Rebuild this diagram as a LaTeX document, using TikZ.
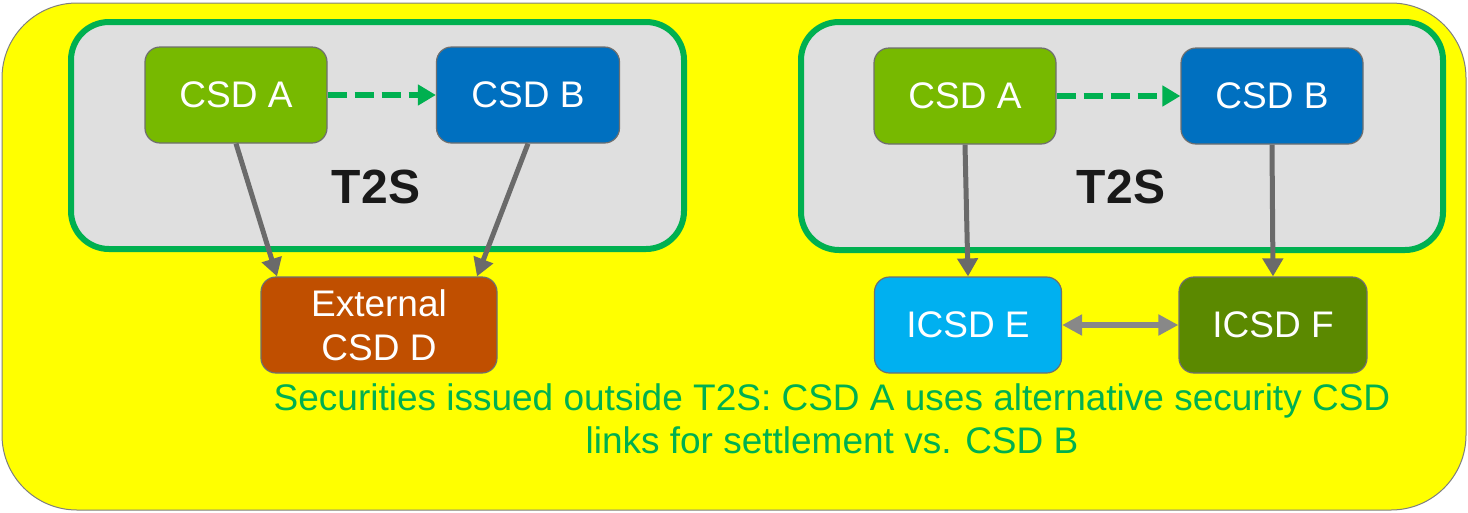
\documentclass[tikz,border=0pt]{standalone}
\usepackage{fontspec}
\setmainfont{Liberation Sans}
\usetikzlibrary{arrows.meta}
\definecolor{bgYellow}{HTML}{FFFF00}
\definecolor{frameGray}{HTML}{7F7F7F}
\definecolor{tGreen}{HTML}{00B050}
\definecolor{tGray}{HTML}{DFDFDF}
\definecolor{boxGray}{HTML}{6F6F6F}
\definecolor{csdA}{HTML}{77B900}
\definecolor{csdB}{HTML}{0070C0}
\definecolor{csdD}{HTML}{C04F00}
\definecolor{icsdE}{HTML}{00B0F0}
\definecolor{icsdF}{HTML}{5B8900}
\definecolor{linkGray}{HTML}{6A6A6A}
\definecolor{twoGray}{HTML}{888888}
\begin{document}
\begin{tikzpicture}[x=1pt,y=-1pt,line join=round,
	csd/.style={draw=boxGray,line width=1.2pt,rounded corners=15pt,minimum height=96pt,
		inner sep=0pt,align=center,text=white,font=\fontsize{37}{44}\selectfont},
	t2sbox/.style={draw=tGreen,fill=tGray,line width=6pt,rounded corners=38pt},
	link/.style={draw=linkGray,line width=5pt,-{Triangle[length=18pt,width=20pt]}},
	alt/.style={draw=tGreen,line width=6pt,dash pattern=on 19pt off 8pt,-{Triangle[length=18pt,width=20pt]}},
	both/.style={draw=twoGray,line width=5.5pt,{Triangle[length=20pt,width=20pt]}-{Triangle[length=20pt,width=20pt]}}]
	\useasboundingbox (0,0) rectangle (1468,512);
	\draw[fill=bgYellow,draw=frameGray,line width=1pt,rounded corners=75pt] (2,3) rectangle (1466,510);
	% T2S frames
	\draw[t2sbox] (71,22) rectangle (684,249);
	\draw[t2sbox] (801,22) rectangle (1443,250);
	\node[font=\fontsize{48}{48}\selectfont\bfseries,text=black!90] (t2sL) at (376,187) {T2S};
	\node[font=\fontsize{48}{48}\selectfont\bfseries,text=black!90] (t2sR) at (1121,187) {T2S};
	% left side
	\node[csd,fill=csdA,minimum width=182pt] (lA) at (236,95) {CSD A};
	\node[csd,fill=csdB,minimum width=183pt] (lB) at (528,95) {CSD B};
	\node[csd,fill=csdD,minimum width=236pt] (extD) at (379,325) {External\\CSD D};
	\draw[alt] (lA) -- (lB);
	\draw[link] (lA.south) -- ([xshift=-102pt]extD.north);
	\draw[link] (lB.south) -- ([xshift=98pt]extD.north);
	% right side
	\node[csd,fill=csdA,minimum width=182pt] (rA) at (965,96) {CSD A};
	\node[csd,fill=csdB,minimum width=182pt] (rB) at (1272,96) {CSD B};
	\node[csd,fill=icsdE,minimum width=187pt] (icE) at (968,325) {ICSD E};
	\node[csd,fill=icsdF,minimum width=188pt] (icF) at (1273,325) {ICSD F};
	\draw[alt] (rA) -- (rB);
	\draw[link] (rA.south) -- (icE.north);
	\draw[link] (rB.south) -- (icF.north);
	\draw[both] (icE) -- (icF);
	\node[align=center,text=tGreen,font=\fontsize{37}{43}\selectfont] (note) at (832,419)
		{Securities issued outside T2S: CSD A uses alternative security CSD\\links for settlement vs. CSD B};
\end{tikzpicture}
\end{document}
